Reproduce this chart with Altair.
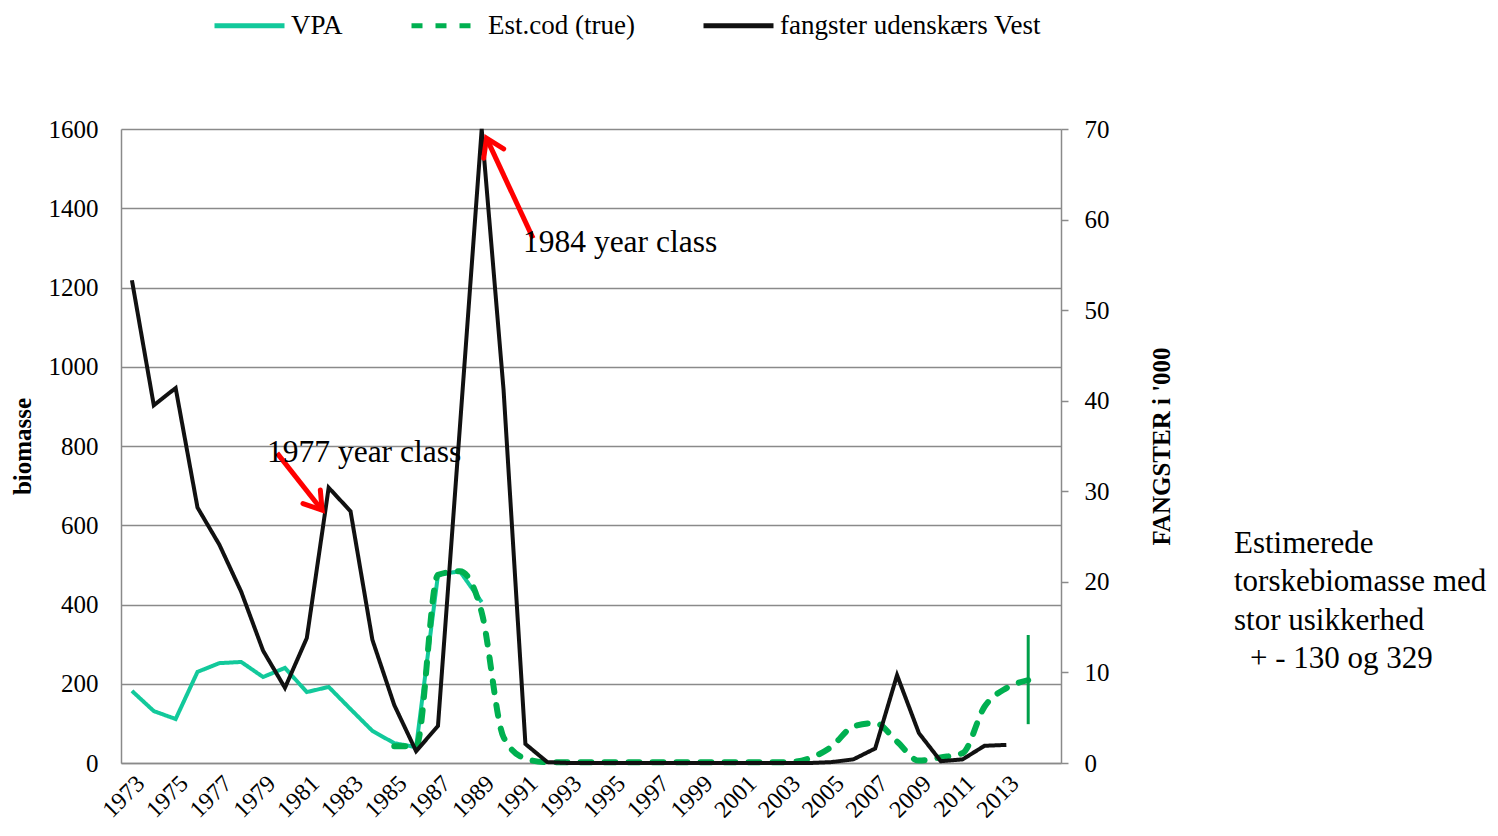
import altair as alt
import pandas as pd

FONT = "Liberation Serif"
SERIES = ["VPA", "Est.cod (true)", "fangster udenskærs Vest"]
COLORS = ["#12C99B", "#00B050", "#111111"]
DASHES = [[1, 0], [11, 13], [1, 0]]

# ---- data ----
vpa_years = list(range(1973, 1990))
vpa_values = [182, 131, 111, 230, 252, 255, 217, 240, 179, 192, 136, 81, 50, 40, 475, 484, 406]

est_years = list(range(1985, 2015))
est_values = [42, 42, 475, 484, 380, 65, 11, 2,
              2, 2, 2, 2, 2, 2, 2, 2, 2, 2, 2,
              12, 41, 92, 101, 54, 6, 14, 25, 142, 189, 209]

catch_years = list(range(1973, 2014))
catch_values = [53.3, 39.5, 41.4, 28.2, 24.1, 18.9, 12.4, 8.3, 13.8, 30.4,
                27.8, 13.6, 6.4, 1.3, 4.1, 37.0, 70.0, 41.2, 2.1, 0.1,
                0, 0, 0, 0, 0, 0, 0, 0, 0, 0, 0, 0,
                0.1, 0.4, 1.6, 9.7, 3.3, 0.2, 0.4, 1.9, 2.0]

err_year = [2014]
err_low = [98]
err_high = [323]

# annotations (data coordinates: year, biomasse)
ann_labels = ["1977 year class", "1984 year class"]
ann_year = [1979.18, 1990.89]
ann_value = [782, 1312]
arrow_tail_year = [1979.64, 1991.35]
arrow_tail_value = [782, 1324]
arrow_tip_year = [1981.7, 1989.22]
arrow_tip_value = [638, 1577]
arrow_angle = [142, 335]

side_lines = ["Estimerede", "torskebiomasse med", "stor usikkerhed"]
side_last = "+ - 130 og 329"

vpa_df = pd.DataFrame({"year": vpa_years, "value": vpa_values, "series": SERIES[0]})
est_df = pd.DataFrame({"year": est_years, "value": est_values, "series": SERIES[1]})
catch_df = pd.DataFrame({"year": catch_years, "value": catch_values, "series": SERIES[2]})
err_df = pd.DataFrame({"year": err_year, "low": err_low, "high": err_high})
ann_df = pd.DataFrame({"year": ann_year, "value": ann_value, "label": ann_labels})
arrow_df = pd.DataFrame({"year": arrow_tail_year, "value": arrow_tail_value,
                         "year2": arrow_tip_year, "value2": arrow_tip_value})
head_df = pd.DataFrame({"year": arrow_tip_year, "value": arrow_tip_value, "angle": arrow_angle})

GRAY = "#8a8a8a"

x_enc = alt.X("year:Q",
              scale=alt.Scale(domain=[1972.5, 2015.5], nice=False, zero=False),
              axis=alt.Axis(values=list(range(1973, 2014, 2)), format="d", labelAngle=-45,
                            labelAlign="right", labelBaseline="top", labelFontSize=24,
                            labelPadding=8, ticks=False, grid=False,
                            domainColor=GRAY, domainWidth=1.5, title=None, labelFont=FONT,
                            labelColor="black", labelOverlap=False))

y_left_scale = alt.Scale(domain=[0, 1600], nice=False)
y_left = alt.Y("value:Q", scale=y_left_scale,
               axis=alt.Axis(values=list(range(0, 1601, 200)), format="d", title="biomasse",
                             ticks=False, labelPadding=23, labelFontSize=25, labelFont=FONT,
                             labelColor="black", grid=True, gridColor=GRAY, gridWidth=1.5,
                             domainColor=GRAY, domainWidth=1.5, titleFont=FONT,
                             titleFontSize=25, titleFontWeight="bold", titleColor="black",
                             titlePadding=13))

legend = alt.Legend(orient="none", legendX=91, legendY=-141, direction="horizontal",
                    symbolType="stroke", symbolSize=4900, symbolStrokeWidth=5,
                    labelFont=FONT, labelFontSize=27, labelColor="black", columnPadding=58,
                    labelOffset=4, title=None, padding=0, labelLimit=0)

color = alt.Color("series:N", scale=alt.Scale(domain=SERIES, range=COLORS), legend=legend)
dash = alt.StrokeDash("series:N", scale=alt.Scale(domain=SERIES, range=DASHES), legend=legend)

vpa_line = alt.Chart(vpa_df).mark_line(strokeWidth=4).encode(x=x_enc, y=y_left, color=color, strokeDash=dash)
est_line = alt.Chart(est_df).mark_line(strokeWidth=6, strokeCap="round", interpolate="monotone").encode(
    x=x_enc, y=y_left, color=color, strokeDash=dash)
err_rule = alt.Chart(err_df).mark_rule(color="#00A04A", strokeWidth=3).encode(
    x=x_enc, y=alt.Y("low:Q", scale=y_left_scale), y2="high:Q")

left = alt.layer(vpa_line, est_line, err_rule)

catch_line = alt.Chart(catch_df).mark_line(strokeWidth=4).encode(
    x=x_enc,
    y=alt.Y("value:Q", scale=alt.Scale(domain=[0, 70], nice=False),
            axis=alt.Axis(orient="right", values=list(range(0, 71, 10)), title="FANGSTER i '000",
                          ticks=True, tickSize=7, tickColor=GRAY, tickWidth=1.5, labelPadding=16,
                          labelFontSize=25, labelFont=FONT, labelColor="black", grid=False,
                          domainColor=GRAY, domainWidth=1.5, titleFont=FONT, titleFontSize=25,
                          titleFontWeight="bold", titleColor="black", titleAngle=270,
                          titleBaseline="top", titlePadding=40)),
    color=color, strokeDash=dash)

y_ann = alt.Y("value:Q", scale=y_left_scale, axis=None)
arrows = alt.Chart(arrow_df).mark_rule(color="#FF0000", strokeWidth=5).encode(
    x=x_enc, y=y_ann, x2="year2:Q", y2="value2:Q")
heads = alt.Chart(head_df).mark_point(shape="M-0.55,0.85L0,0L0.55,0.85", filled=False,
                                      stroke="#FF0000", strokeWidth=5, size=1600, opacity=1,
                                      strokeCap="round").encode(
    x=x_enc, y=y_ann, angle=alt.Angle("angle:Q", scale=None))
ann_text = alt.Chart(ann_df).mark_text(align="left", baseline="middle", font=FONT, fontSize=31.5,
                                       color="black").encode(x=x_enc, y=y_ann, text="label:N")
side_text = alt.Chart(alt.Data(values=[{}])).mark_text(
    align="left", baseline="alphabetic", font=FONT, fontSize=31, color="black", lineHeight=38.3
).encode(x=alt.value(1113), y=alt.value(424), text=alt.value(side_lines))
side_text2 = alt.Chart(alt.Data(values=[{}])).mark_text(
    align="left", baseline="alphabetic", font=FONT, fontSize=31, color="black"
).encode(x=alt.value(1129), y=alt.value(539), text=alt.value(side_last))

ann = alt.layer(arrows, heads, ann_text, side_text, side_text2)

chart = alt.layer(left, catch_line, ann).resolve_scale(y="independent").properties(
    width=940, height=634,
    padding={"left": 113, "top": 121, "right": 429, "bottom": 65},
    autosize=alt.AutoSizeParams(type="none"),
    background="white",
).configure_view(stroke=None)

chart.save("out.html", embed_options={"renderer": "svg", "actions": False})
